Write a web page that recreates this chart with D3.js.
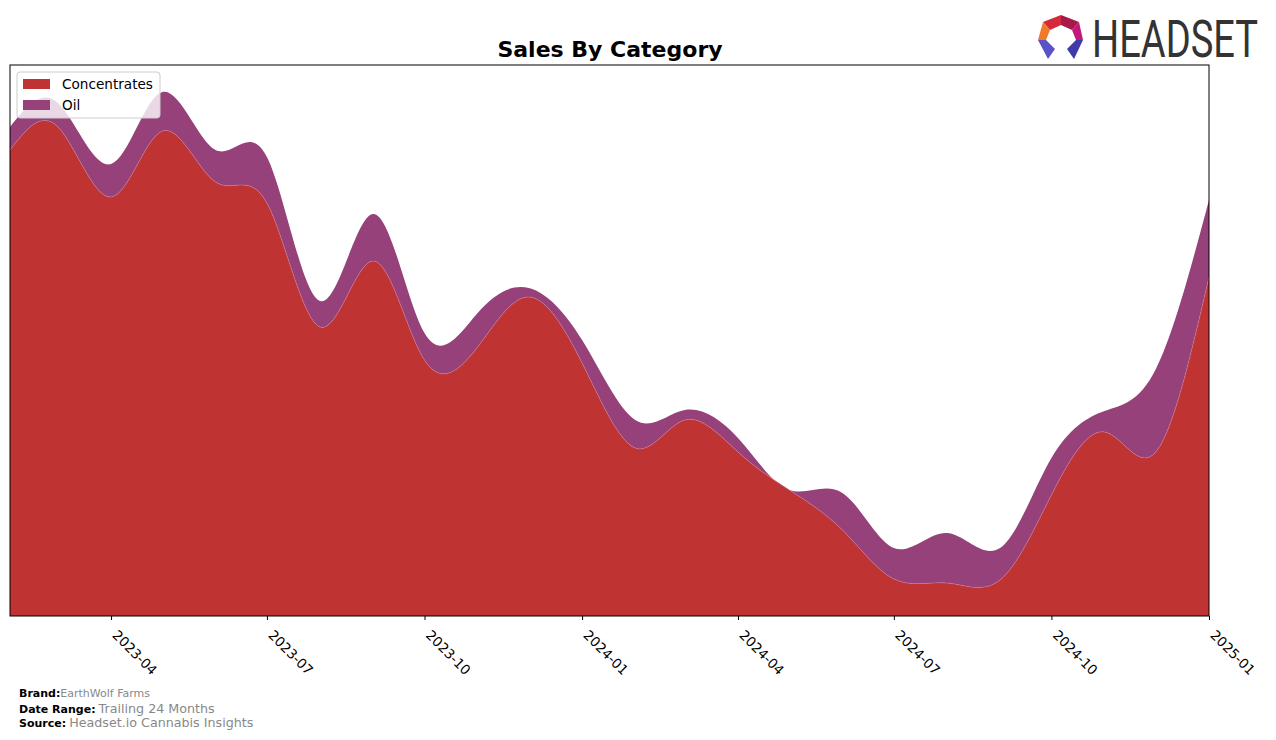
<!DOCTYPE html>
<html><head><meta charset="utf-8">
<script src="https://cdn.jsdelivr.net/npm/d3@7"></script>
<style>
body{margin:0;background:#fff;}
svg{display:block;font-family:"DejaVu Sans",sans-serif;}
</style></head>
<body><svg id="c" width="1276" height="740"></svg>
<script>
const months = ["2023-02","2023-03","2023-04","2023-05","2023-06","2023-07","2023-08","2023-09","2023-10","2023-11","2023-12","2024-01","2024-02","2024-03","2024-04","2024-05","2024-06","2024-07","2024-08","2024-09","2024-10","2024-11","2024-12","2025-01"];
const concentrates = [466,489,419,485,434,413,289,355,256,269,319,253,168,196,164,126,86,37,33,36,121,184,164,339];
const oil = [23,24,33,39,32,46,26,47,27,34,9,23,28,10,14,0,37,31,50,32,37,21,83,77];
const seriesNames = ["Concentrates","Oil"];
const seriesColors = ["#c03333","#96417a"];
const tickLabels = ["2023-04","2023-07","2023-10","2024-01","2024-04","2024-07","2024-10","2025-01"];

const parse = d3.timeParse("%Y-%m");
const svg = d3.select("#c");
const L=10,R=1209,T=65,B=616;
const x = d3.scaleTime().domain([parse(months[0]), parse(months[months.length-1])]).range([L,R]);
const y = d3.scaleLinear().domain([0,551]).range([B,T]);

const rows = months.map((m,i)=>({date:parse(m),Concentrates:concentrates[i],Oil:oil[i]}));
const stack = d3.stack().keys(seriesNames)(rows);
const area = d3.area().curve(d3.curveNatural)
  .x(d=>x(d.data.date)).y0(d=>y(d[0])).y1(d=>y(d[1]));

svg.append("defs").append("clipPath").attr("id","pc").append("rect")
  .attr("x",L).attr("y",T).attr("width",R-L).attr("height",B-T);
const g = svg.append("g").attr("clip-path","url(#pc)");
g.selectAll("path.a").data(stack).join("path").attr("class","a")
  .attr("d",area).attr("fill",(d,i)=>seriesColors[i]);
g.append("path").datum(stack[0])
  .attr("d", d3.line().curve(d3.curveNatural).x(d=>x(d.data.date)).y(d=>y(d[1])))
  .attr("fill","none").attr("stroke","#d9859f").attr("stroke-width",0.6).attr("opacity",0.7);

// frame
svg.append("rect").attr("x",L).attr("y",T).attr("width",R-L).attr("height",B-T)
  .attr("fill","none").attr("stroke","#000").attr("stroke-width",1);

// x axis
const ax = svg.append("g").attr("transform",`translate(0,${B})`)
  .call(d3.axisBottom(x).tickValues(tickLabels.map(parse)).tickFormat(d3.timeFormat("%Y-%m")).tickSize(4).tickSizeOuter(0));
ax.select(".domain").remove();
ax.selectAll(".tick line").attr("stroke","#000");
ax.selectAll(".tick text").attr("fill","#000").style("font-size","13.5px").style("font-family","DejaVu Sans")
  .attr("x",0).attr("y",0).attr("dy",0).attr("text-anchor","start")
  .attr("transform","translate(0,20) rotate(45)");

// title
svg.append("text").attr("x",610).attr("y",57).attr("text-anchor","middle")
  .style("font-size","22px").style("font-weight","bold").text("Sales By Category");

// legend
const lg = svg.append("g");
lg.append("rect").attr("x",17).attr("y",72).attr("width",143).attr("height",46).attr("rx",3)
  .attr("fill","rgba(255,255,255,0.8)").attr("stroke","#ccc").attr("stroke-width",1);
seriesNames.forEach((n,i)=>{
  lg.append("rect").attr("x",23).attr("y",79+i*21).attr("width",27).attr("height",10).attr("fill",seriesColors[i]);
  lg.append("text").attr("x",62).attr("y",89+i*21).style("font-size","13.6px").attr("fill","#000").text(n);
});

// footer
const ft = [["Brand:","EarthWolf Farms",697,"11px"],["Date Range:","Trailing 24 Months",713,"12.7px"],["Source:","Headset.io Cannabis Insights",727,"12.7px"]];
ft.forEach(f=>{
  const t = svg.append("text").attr("x",19).attr("y",f[2]).style("font-size","11px");
  t.append("tspan").style("font-weight","bold").attr("fill","#000").text(f[0]);
  t.append("tspan").attr("fill","#888").style("font-size",f[3]).attr("dx",f[0]==="Brand:"?0:3).text(f[1]);
});

// logo
const lo = svg.append("g");
const polys = [
  [[[1061,15],[1043,22],[1050,30],[1061,25]],"#d42a3a"],
  [[[1061,15],[1061,25],[1072,30],[1079,22]],"#a8184a"],
  [[[1043,22],[1038,40],[1046,40],[1050,30]],"#f07a28"],
  [[[1079,22],[1072,30],[1076,40],[1083,40]],"#c0197a"],
  [[[1038,40],[1046,40],[1055,49],[1048,59]],"#5a52c8"],
  [[[1083,40],[1076,40],[1067,49],[1074,59]],"#3e3aa8"]
];
polys.forEach(p=>lo.append("polygon").attr("points",p[0].map(q=>q.join(",")).join(" ")).attr("fill",p[1]));
lo.append("text").attr("x",0).attr("y",0).attr("textLength",166).attr("lengthAdjust","spacingAndGlyphs")
  .attr("transform","translate(1092,57) scale(1,1.37)")
  .style("font-family","Roboto").style("font-size","38px").attr("fill","#333").text("HEADSET");
</script></body></html>
